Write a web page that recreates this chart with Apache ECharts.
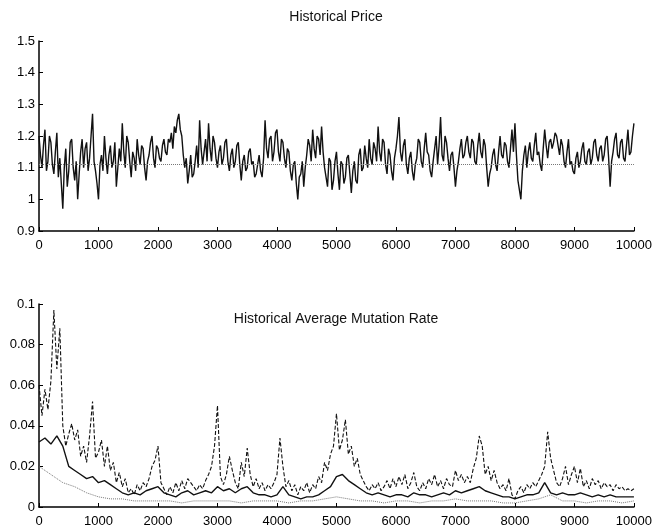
<!DOCTYPE html>
<html>
<head>
<meta charset="utf-8">
<script src="https://cdn.jsdelivr.net/npm/echarts@6/dist/echarts.min.js"></script>
<style>
  html, body { margin: 0; padding: 0; background: #fff; }
  #chart { width: 655px; height: 528px; }
</style>
</head>
<body>
<div id="chart"></div>
<script>
// Simulation length and sampling step of each recorded series
const generations = 10000;
const priceStep = 25;
const fastStep = 50;
const meanStep = 100;
const slowStep = 200;

// Market price sampled every 25 generations (one row per 1000 generations)
const price = [
  1.20,1.14,1.10,1.17,1.22,1.09,1.12,1.20,1.18,1.11,1.08,1.15,1.21,1.07,1.13,1.05,0.97,1.10,1.16,1.04,1.09,1.18,1.19,1.10,1.06,1.12,1.00,1.08,1.15,1.19,1.10,1.16,1.18,1.09,1.13,1.20,1.27,1.12,1.09,1.05,
  1.00,1.11,1.14,1.09,1.20,1.13,1.08,1.14,1.17,1.10,1.12,1.18,1.04,1.10,1.16,1.12,1.24,1.15,1.10,1.20,1.18,1.12,1.07,1.15,1.13,1.09,1.19,1.14,1.11,1.17,1.16,1.10,1.06,1.12,1.14,1.18,1.20,1.13,1.10,1.17,
  1.16,1.13,1.12,1.17,1.19,1.15,1.14,1.19,1.18,1.21,1.16,1.23,1.21,1.25,1.27,1.22,1.20,1.14,1.10,1.13,1.05,1.09,1.14,1.07,1.08,1.12,1.17,1.10,1.25,1.16,1.11,1.15,1.19,1.12,1.24,1.16,1.12,1.20,1.18,1.13,
  1.10,1.15,1.17,1.11,1.13,1.18,1.19,1.12,1.09,1.14,1.16,1.10,1.12,1.17,1.18,1.11,1.06,1.12,1.14,1.09,1.10,1.15,1.16,1.11,1.12,1.07,1.08,1.11,1.14,1.09,1.07,1.13,1.25,1.16,1.13,1.19,1.20,1.12,1.15,1.21,
  1.22,1.15,1.12,1.19,1.18,1.13,1.10,1.16,1.15,1.09,1.06,1.11,1.12,1.05,1.00,1.07,1.08,1.12,1.04,1.10,1.14,1.19,1.17,1.12,1.22,1.16,1.13,1.20,1.19,1.14,1.23,1.15,1.10,1.07,1.04,1.13,1.12,1.03,1.06,1.12,
  1.15,1.08,1.03,1.12,1.11,1.05,1.07,1.13,1.14,1.08,1.02,1.09,1.12,1.06,1.05,1.14,1.16,1.09,1.10,1.17,1.13,1.10,1.19,1.13,1.11,1.18,1.16,1.12,1.23,1.15,1.12,1.19,1.18,1.11,1.08,1.16,1.14,1.09,1.06,1.13,
  1.16,1.20,1.26,1.15,1.12,1.17,1.19,1.11,1.08,1.13,1.15,1.09,1.06,1.11,1.13,1.19,1.18,1.12,1.10,1.16,1.21,1.15,1.14,1.09,1.07,1.12,1.16,1.20,1.11,1.17,1.26,1.14,1.12,1.20,1.18,1.13,1.09,1.14,1.15,1.10,
  1.04,1.09,1.12,1.16,1.19,1.13,1.14,1.18,1.20,1.15,1.13,1.19,1.18,1.12,1.11,1.17,1.21,1.15,1.13,1.19,1.17,1.10,1.04,1.08,1.10,1.14,1.16,1.11,1.09,1.15,1.20,1.14,1.13,1.18,1.17,1.12,1.10,1.16,1.22,1.15,
  1.24,1.14,1.06,1.03,1.00,1.09,1.14,1.17,1.10,1.15,1.18,1.13,1.12,1.17,1.21,1.14,1.15,1.11,1.09,1.16,1.22,1.17,1.13,1.18,1.19,1.16,1.18,1.21,1.20,1.17,1.14,1.19,1.17,1.12,1.10,1.15,1.19,1.11,1.12,1.09,
  1.08,1.13,1.15,1.10,1.12,1.16,1.18,1.12,1.11,1.15,1.16,1.11,1.13,1.18,1.19,1.14,1.12,1.16,1.17,1.12,1.14,1.19,1.20,1.13,1.04,1.12,1.15,1.19,1.21,1.14,1.13,1.18,1.19,1.13,1.12,1.17,1.22,1.14,1.15,1.20,
  1.24
];
// Long-run mean price (dotted reference line)
const meanPrice = 1.115;

// Average mutation rate of the fast-adapting population (dashed), every 50 generations
const rateHigh = [
  0.060, 0.045, 0.058, 0.048, 0.062, 0.097, 0.068, 0.088, 0.040, 0.030, 0.036, 0.041, 0.033, 0.038, 0.025, 0.030, 0.022, 0.035, 0.052, 0.024,
  0.027, 0.033, 0.020, 0.030, 0.018, 0.022, 0.012, 0.017, 0.010, 0.014, 0.007, 0.009, 0.006, 0.011, 0.008, 0.012, 0.010, 0.014, 0.020, 0.023,
  0.030, 0.012, 0.009, 0.006, 0.010, 0.007, 0.012, 0.008, 0.013, 0.009, 0.014, 0.012, 0.010, 0.008, 0.011, 0.009, 0.013, 0.016, 0.020, 0.030,
  0.050, 0.015, 0.011, 0.016, 0.025, 0.018, 0.012, 0.009, 0.022, 0.015, 0.029, 0.016, 0.010, 0.014, 0.009, 0.012, 0.008, 0.011, 0.009, 0.012,
  0.016, 0.034, 0.020, 0.010, 0.013, 0.008, 0.011, 0.006, 0.010, 0.008, 0.012, 0.007, 0.011, 0.009, 0.015, 0.012, 0.022, 0.018, 0.026, 0.030,
  0.046, 0.028, 0.033, 0.043, 0.026, 0.030, 0.020, 0.024, 0.016, 0.013, 0.010, 0.008, 0.011, 0.009, 0.012, 0.008, 0.010, 0.013, 0.009, 0.014,
  0.010, 0.015, 0.011, 0.016, 0.009, 0.012, 0.017, 0.010, 0.008, 0.012, 0.009, 0.014, 0.011, 0.016, 0.010, 0.013, 0.009, 0.014, 0.011, 0.010,
  0.018, 0.013, 0.016, 0.012, 0.015, 0.012, 0.019, 0.024, 0.035, 0.030, 0.016, 0.020, 0.013, 0.018, 0.012, 0.009, 0.011, 0.008, 0.014, 0.006,
  0.004, 0.008, 0.010, 0.007, 0.011, 0.009, 0.012, 0.010, 0.013, 0.016, 0.020, 0.037, 0.024, 0.018, 0.012, 0.010, 0.014, 0.020, 0.011, 0.016,
  0.020, 0.012, 0.019, 0.010, 0.013, 0.009, 0.014, 0.011, 0.013, 0.009, 0.012, 0.010, 0.011, 0.008, 0.011, 0.009, 0.010, 0.008, 0.009, 0.008,
  0.009
];

// Population-wide average mutation rate (solid), every 100 generations
const rateMean = [
  0.032, 0.034, 0.031, 0.035, 0.030, 0.020, 0.018, 0.016, 0.014, 0.015,
  0.012, 0.013, 0.011, 0.009, 0.007, 0.006, 0.007, 0.006, 0.008, 0.009,
  0.010, 0.007, 0.006, 0.005, 0.007, 0.008, 0.006, 0.007, 0.008, 0.007,
  0.010, 0.008, 0.009, 0.007, 0.009, 0.010, 0.007, 0.006, 0.006, 0.005,
  0.006, 0.010, 0.006, 0.005, 0.004, 0.005, 0.005, 0.006, 0.008, 0.010,
  0.015, 0.016, 0.013, 0.011, 0.009, 0.007, 0.006, 0.007, 0.006, 0.005,
  0.006, 0.006, 0.005, 0.007, 0.006, 0.006, 0.005, 0.006, 0.007, 0.006,
  0.008, 0.007, 0.008, 0.009, 0.010, 0.008, 0.007, 0.006, 0.005, 0.005,
  0.004, 0.005, 0.006, 0.006, 0.007, 0.012, 0.007, 0.006, 0.007, 0.006,
  0.006, 0.007, 0.006, 0.005, 0.006, 0.005, 0.006, 0.005, 0.005, 0.005,
  0.005
];

// Average mutation rate of the slow-adapting population (dotted), every 200 generations
const rateLow = [
  0.020, 0.016, 0.012, 0.010, 0.007, 0.005, 0.004, 0.004, 0.003, 0.003,
  0.003, 0.003, 0.002, 0.003, 0.003, 0.003, 0.003, 0.002, 0.003, 0.003,
  0.003, 0.002, 0.003, 0.003, 0.004, 0.005, 0.004, 0.003, 0.003, 0.002,
  0.003, 0.003, 0.002, 0.003, 0.003, 0.004, 0.003, 0.003, 0.003, 0.002,
  0.002, 0.003, 0.004, 0.006, 0.003, 0.003, 0.002, 0.003, 0.003, 0.002,
  0.003
];

const priceTicks = { min: 0.9, max: 1.5, interval: 0.1 };
const rateTicks = { min: 0, max: 0.1, interval: 0.02 };
const xTicks = { min: 0, max: generations, interval: 1000 };

const withX = (arr, step) => arr.map((v, i) => [i * step, v]);

const FONT = '"Liberation Sans", Arial, Helvetica, sans-serif';

function xAxisFor(gridIndex) {
  return {
    type: 'value', gridIndex,
    min: xTicks.min, max: xTicks.max, interval: xTicks.interval,
    axisLine: { show: true, lineStyle: { color: '#000', width: 1.5 } },
    axisTick: { show: true, inside: true, length: 4, lineStyle: { color: '#000', width: 1 } },
    axisLabel: { color: '#000', fontSize: 13, fontFamily: FONT, margin: 8, formatter: v => String(v) },
    splitLine: { show: false }
  };
}
function yAxisFor(gridIndex, ticks) {
  return {
    type: 'value', gridIndex,
    min: ticks.min, max: ticks.max, interval: ticks.interval,
    axisLine: { show: true, lineStyle: { color: '#000', width: 1.5 } },
    axisTick: { show: true, inside: true, length: 4, lineStyle: { color: '#000', width: 1 } },
    axisLabel: { color: '#000', fontSize: 13, fontFamily: FONT, margin: 4 },
    splitLine: { show: false }
  };
}

const chart = echarts.init(document.getElementById('chart'), null, { renderer: 'canvas' });
chart.setOption({
  animation: false,
  backgroundColor: '#fff',
  graphic: [
    { type: 'text', x: 336, y: 17, style: { text: 'Historical Price', fill: '#111', font: '14px ' + FONT, textAlign: 'center', textVerticalAlign: 'middle' } },
    { type: 'text', x: 336, y: 319, style: { text: 'Historical Average Mutation Rate', fill: '#111', font: '14px ' + FONT, textAlign: 'center', textVerticalAlign: 'middle' } }
  ],
  grid: [
    { left: 39, right: 19, top: 41, height: 190 },
    { left: 39, right: 19, top: 304, height: 204 }
  ],
  xAxis: [xAxisFor(0), xAxisFor(1)],
  yAxis: [yAxisFor(0, priceTicks), yAxisFor(1, rateTicks)],
  series: [
    {
      name: 'price', type: 'line', xAxisIndex: 0, yAxisIndex: 0,
      data: withX(price, priceStep), showSymbol: false, symbol: 'none',
      lineStyle: { color: '#111', width: 1.4 },
      markLine: {
        silent: true, symbol: 'none', label: { show: false },
        lineStyle: { color: '#777', type: 'dotted', width: 1 },
        data: [{ yAxis: meanPrice }]
      }
    },
    {
      name: 'slow', type: 'line', xAxisIndex: 1, yAxisIndex: 1,
      data: withX(rateLow, slowStep), showSymbol: false, symbol: 'none',
      lineStyle: { color: '#777', width: 1, type: 'dotted' }
    },
    {
      name: 'mean', type: 'line', xAxisIndex: 1, yAxisIndex: 1,
      data: withX(rateMean, meanStep), showSymbol: false, symbol: 'none',
      lineStyle: { color: '#111', width: 1.4 }
    },
    {
      name: 'fast', type: 'line', xAxisIndex: 1, yAxisIndex: 1,
      data: withX(rateHigh, fastStep), showSymbol: false, symbol: 'none',
      lineStyle: { color: '#111', width: 1.1, type: [4, 2] }
    }
  ]
});
</script>
</body>
</html>
